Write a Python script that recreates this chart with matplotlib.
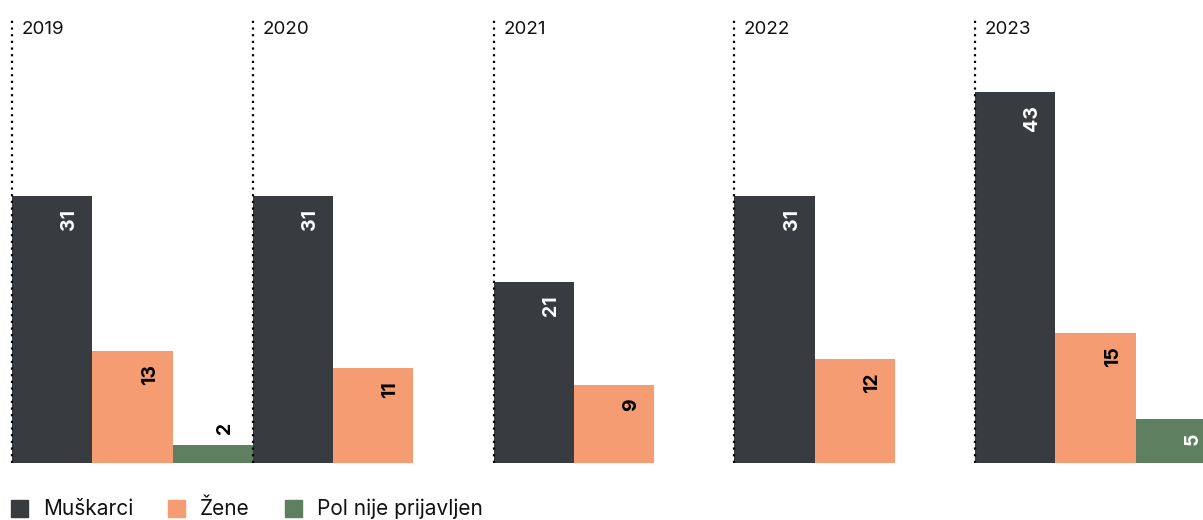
import matplotlib
matplotlib.use("Agg")
import matplotlib.pyplot as plt
from matplotlib.patches import Rectangle

plt.rcParams['font.family'] = ['Inter', 'DejaVu Sans']

years = ["2019", "2020", "2021", "2022", "2023"]
series = ["Muškarci", "Žene", "Pol nije prijavljen"]
muskarci = [31, 31, 21, 31, 43]
zene = [13, 11, 9, 12, 15]
pol_nije = [2, None, None, None, 5]
colors = ["#383c40", "#f59c72", "#5f8060"]
label_colors = ["white", "black", "white"]

W, H = 1203, 520
unit = 80.25
fig = plt.figure(figsize=(W / 100, H / 100), dpi=100)
ax = fig.add_axes([12 / W, (H - 462.5) / H, 15 * unit / W, 444.5 / H])
ax.set_xlim(0, 15)
ax.set_ylim(0, 444.5 / 8.61)
ax.axis('off')

data = [muskarci, zene, pol_nije]
for s, vals in enumerate(data):
    for g, v in enumerate(vals):
        if v is None:
            continue
        x0 = g * 3 + s
        ax.bar(x0, v, width=1, align='edge', color=colors[s], zorder=2)
        if v >= 4:
            ax.annotate(str(v), xy=(x0 + 1, v), xytext=(-16.5, -9.5), textcoords='offset points',
                        rotation=90, ha='center', va='top', fontsize=14, fontweight='bold',
                        color=label_colors[s], zorder=4)
        else:
            ax.annotate(str(v), xy=(x0 + 1, v), xytext=(-20, 8), textcoords='offset points',
                        rotation=90, ha='center', va='bottom', fontsize=14, fontweight='bold',
                        color='black', zorder=4)

ylim_top = ax.get_ylim()[1]
for g, y in enumerate(years):
    ax.plot([g * 3, g * 3], [0, ylim_top], color='black', lw=1.6, ls=(0, (1, 2)),
            zorder=3, clip_on=False)
    ax.annotate(y, xy=(g * 3, ylim_top), xytext=(7, -2.5), textcoords='offset points',
                ha='left', va='top', fontsize=13.5, color='#111111')

# legend
leg_x = [11, 168, 285]
leg_tx = [43, 200, 317]
for i, name in enumerate(series):
    fig.patches.append(Rectangle((leg_x[i] / W, (H - 517) / H), 17 / W, 17 / H,
                                 transform=fig.transFigure, color=colors[i]))
    fig.text(leg_tx[i] / W, (H - 509) / H, name, ha='left', va='center',
             fontsize=15, color='#111111')

fig.savefig("out.png", dpi=100)
